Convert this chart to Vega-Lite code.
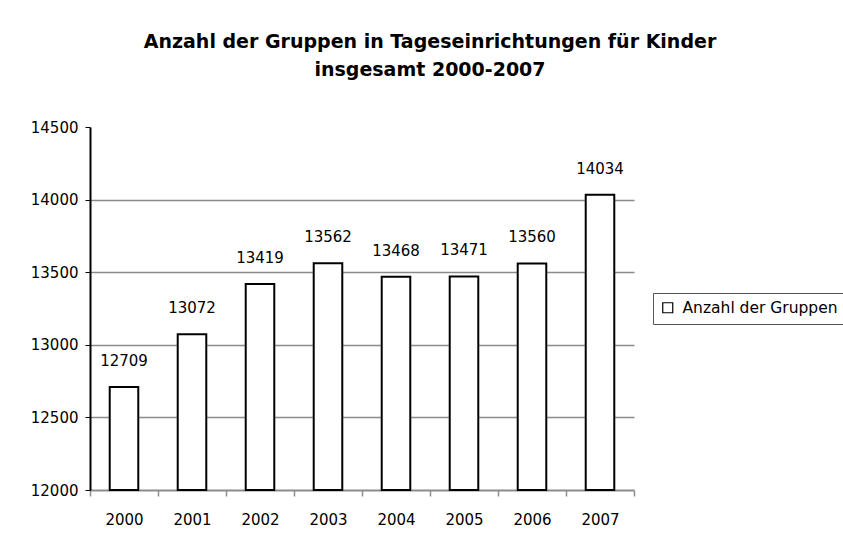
{
  "$schema": "https://vega.github.io/schema/vega-lite/v6.json",
  "autosize": "none",
  "width": 544,
  "height": 363,
  "padding": {"left": 90, "top": 127, "right": 209, "bottom": 53},
  "background": "white",
  "config": {"view": {"stroke": null}},
  "title": {
    "text": ["Anzahl der Gruppen in Tageseinrichtungen für Kinder", "insgesamt 2000-2007"],
    "anchor": "middle",
    "frame": "group",
    "dx": 68,
    "offset": 40,
    "font": "DejaVu Sans",
    "fontSize": 19,
    "fontWeight": "bold",
    "lineHeight": 28,
    "color": "black"
  },
  "data": {
    "values": [
      {"Jahr": "2000", "Anzahl": 12709, "Serie": "Anzahl der Gruppen"},
      {"Jahr": "2001", "Anzahl": 13072, "Serie": "Anzahl der Gruppen"},
      {"Jahr": "2002", "Anzahl": 13419, "Serie": "Anzahl der Gruppen"},
      {"Jahr": "2003", "Anzahl": 13562, "Serie": "Anzahl der Gruppen"},
      {"Jahr": "2004", "Anzahl": 13468, "Serie": "Anzahl der Gruppen"},
      {"Jahr": "2005", "Anzahl": 13471, "Serie": "Anzahl der Gruppen"},
      {"Jahr": "2006", "Anzahl": 13560, "Serie": "Anzahl der Gruppen"},
      {"Jahr": "2007", "Anzahl": 14034, "Serie": "Anzahl der Gruppen"}
    ]
  },
  "encoding": {
    "x": {
      "field": "Jahr",
      "type": "ordinal",
      "scale": {"paddingInner": 0, "paddingOuter": 0},
      "axis": {
        "title": null,
        "labelAngle": 0,
        "labelFont": "DejaVu Sans",
        "labelFontSize": 15,
        "labelColor": "black",
        "labelPadding": 16,
        "domainColor": "#8c8c8c",
        "domainWidth": 2,
        "tickColor": "#8c8c8c",
        "tickWidth": 1.5,
        "tickSize": 6,
        "tickBand": "extent",
        "bandPosition": 0,
        "grid": false
      }
    },
    "y": {
      "field": "Anzahl",
      "type": "quantitative",
      "scale": {"domain": [12000, 14500], "nice": false, "zero": false, "clamp": true},
      "axis": {
        "title": null,
        "format": "d",
        "values": [12000, 12500, 13000, 13500, 14000, 14500],
        "labelFont": "DejaVu Sans",
        "labelFontSize": 15,
        "labelColor": "black",
        "labelPadding": 7,
        "domainColor": "black",
        "domainWidth": 2,
        "tickColor": "black",
        "tickSize": 5,
        "tickWidth": 1,
        "grid": true,
        "gridColor": {"condition": {"test": "datum.value >= 14500 || datum.value <= 12000", "value": null}, "value": "#8a8a8a"},
        "gridWidth": 1.5
      }
    }
  },
  "layer": [
    {
      "mark": {"type": "bar", "width": {"band": 0.42}, "stroke": "black", "strokeWidth": 2, "fill": "white"},
      "encoding": {
        "color": {
          "field": "Serie",
          "type": "nominal",
          "scale": {"range": ["white"]},
          "legend": {
            "title": null,
            "orient": "none",
            "legendX": 563,
            "legendY": 166,
            "direction": "vertical",
            "padding": 7,
            "strokeColor": "#555555",
            "fillColor": "white",
            "symbolType": "square",
            "symbolSize": 100,
            "symbolStrokeColor": "black",
            "symbolStrokeWidth": 1.2,
            "symbolFillColor": "white",
            "labelFont": "DejaVu Sans",
            "labelFontSize": 15.5,
            "labelColor": "black",
            "labelOffset": 7,
            "labelLimit": 300
          }
        }
      }
    },
    {
      "mark": {"type": "text", "dy": -21, "baseline": "alphabetic", "font": "DejaVu Sans", "fontSize": 15, "color": "black"},
      "encoding": {"text": {"field": "Anzahl", "type": "quantitative", "format": "d"}}
    }
  ]
}
